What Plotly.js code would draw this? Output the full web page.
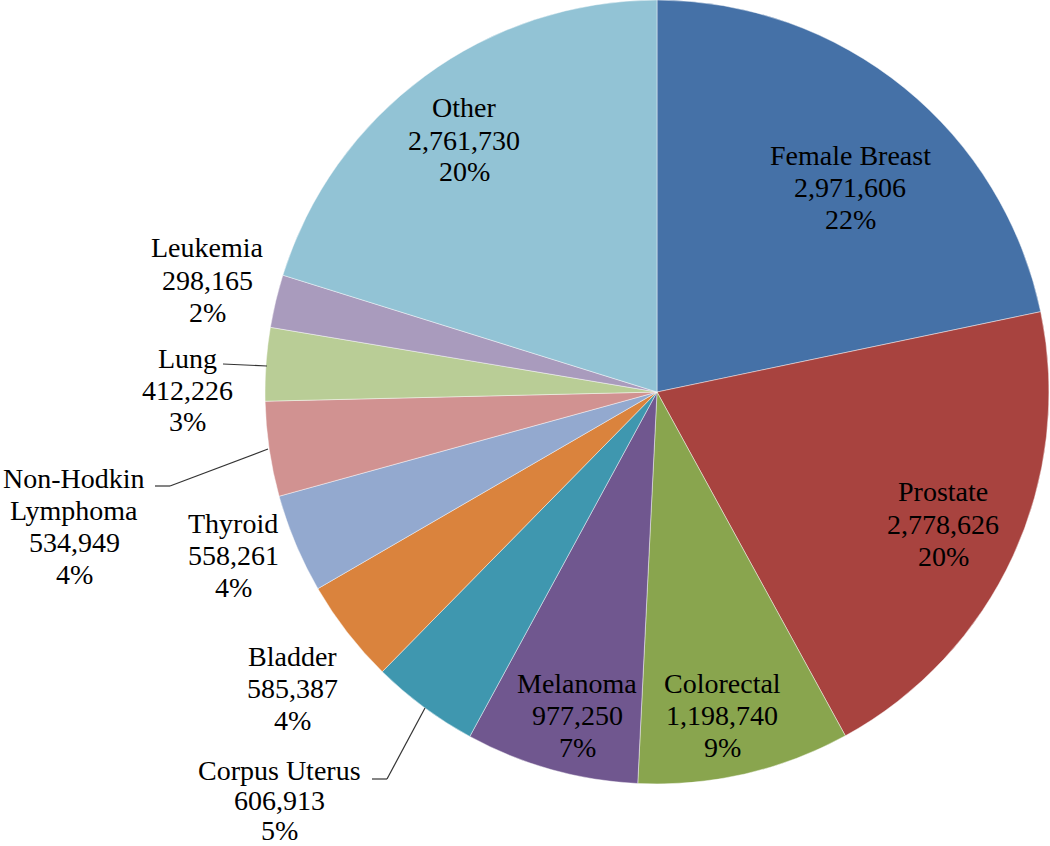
<!DOCTYPE html>
<html>
<head>
<meta charset="utf-8">
<script src="https://cdn.plot.ly/plotly-3.0.1.min.js"></script>
<style>html,body{margin:0;padding:0;background:#fff;}#chart{width:1050px;height:846px;}</style>
</head>
<body>
<div id="chart"></div>
<script>
// ---- Data ----
const labels = ['Female Breast', 'Prostate', 'Colorectal', 'Melanoma', 'Corpus Uterus', 'Bladder', 'Thyroid', 'Non-Hodkin Lymphoma', 'Lung', 'Leukemia', 'Other'];
const values = [2971606, 2778626, 1198740, 977250, 606913, 585387, 558261, 534949, 412226, 298165, 2761730];
const percentLabels = ['22%', '20%', '9%', '7%', '5%', '4%', '4%', '4%', '3%', '2%', '20%'];

// ---- Styles / layout config ----
const colors = ['#4571A7', '#A8433F', '#89A54E', '#70578F', '#3F97AF', '#DA833D', '#93A9CF', '#D19291', '#B9CD96', '#A99BBD', '#92C3D5'];
const W = 1050, H = 846;
const cx = 657, cy = 392, R = 392;
const lineStep = {default: 32, 'Corpus Uterus': 30};
// label anchor (pixel centre of first text line)
const labelPos = {
  'Female Breast': [850, 155],
  'Prostate': [943, 492],
  'Colorectal': [722, 683],
  'Melanoma': [577, 683],
  'Corpus Uterus': [279, 770],
  'Bladder': [292, 656],
  'Thyroid': [233, 523],
  'Non-Hodkin Lymphoma': [74, 478],
  'Lung': [187, 358],
  'Leukemia': [207, 248],
  'Other': [464, 108]
};
const wrapLabel = {'Non-Hodkin Lymphoma': true};
// leader lines in pixel coords
const leaders = [
  [[223, 364], [267, 366]],
  [[155, 486], [170, 486], [268, 449]],
  [[372, 779], [387, 779], [425, 708]]
];

function fmt(n) { return String(n).replace(/\B(?=(\d{3})+(?!\d))/g, ','); }
const px = x => x / W;
const py = y => 1 - y / H;

const font = {family: '"Liberation Serif", "Times New Roman", serif', size: 28, color: '#000'};

const annotations = [];
labels.forEach((lab, i) => {
  const nameLines = wrapLabel[lab] ? lab.replace(' ', '\n').split('\n') : [lab];
  const lines = nameLines.concat([fmt(values[i]), percentLabels[i]]);
  const p = labelPos[lab];
  const step = lineStep[lab] || lineStep.default;
  lines.forEach((t, k) => {
    annotations.push({
      xref: 'paper', yref: 'paper',
      x: px(p[0]), y: py(p[1] + k * step),
      xanchor: 'center', yanchor: 'middle',
      text: t, showarrow: false, font: font
    });
  });
});

const shapes = [];
leaders.forEach(pts => {
  for (let k = 0; k < pts.length - 1; k++) {
    shapes.push({
      type: 'line', xref: 'paper', yref: 'paper',
      x0: px(pts[k][0]), y0: py(pts[k][1]),
      x1: px(pts[k + 1][0]), y1: py(pts[k + 1][1]),
      line: {color: '#333333', width: 1.2}
    });
  }
});

const trace = {
  type: 'pie',
  labels: labels,
  values: values,
  sort: false,
  direction: 'clockwise',
  rotation: 0,
  textinfo: 'none',
  hoverinfo: 'label+value+percent',
  marker: {colors: colors, line: {color: 'rgba(255,255,255,0.55)', width: 0.8}},
  domain: {x: [(cx - R) / W, (cx + R) / W], y: [1 - (cy + R) / H, 1 - (cy - R) / H]},
  showlegend: false
};

const layout = {
  width: W, height: H,
  margin: {l: 0, r: 0, t: 0, b: 0},
  paper_bgcolor: '#ffffff',
  plot_bgcolor: '#ffffff',
  showlegend: false,
  annotations: annotations,
  shapes: shapes
};

Plotly.newPlot('chart', [trace], layout, {displayModeBar: false, staticPlot: true});
</script>
</body>
</html>
